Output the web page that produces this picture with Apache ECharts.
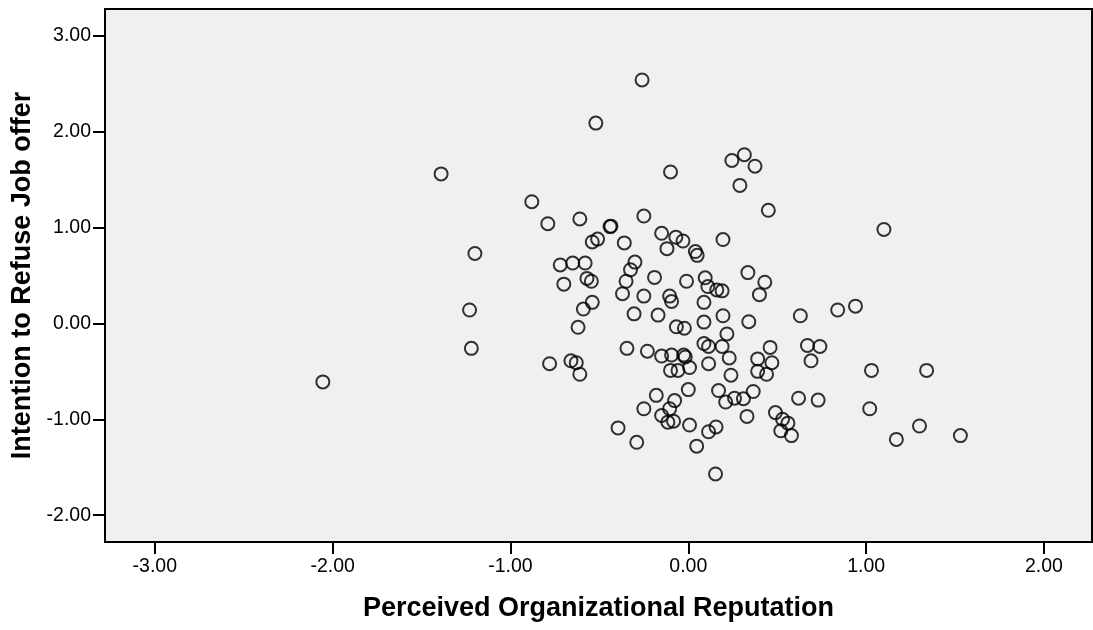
<!DOCTYPE html>
<html>
<head>
<meta charset="utf-8">
<script src="https://cdn.jsdelivr.net/npm/echarts@6/dist/echarts.min.js"></script>
<style>
  html, body { margin: 0; padding: 0; background: #ffffff; }
  #chart { width: 1093px; height: 630px; }
</style>
</head>
<body>
<div id="chart"></div>
<script>
// Perceived Organizational Reputation (x) values
const reputation = [
  -0.26, -0.52, -1.39, -0.10, 0.245, 0.315, 0.375, 0.29, 0.45, 1.10,
  -0.88, -0.79, -0.61, -0.44, -0.435, -0.25, -1.20, -0.51, -0.54, -0.36,
  -0.15, -0.07, -0.03, -0.12, 0.04, 0.05, 0.195, -0.72, -0.65, -0.58,
  -0.30, -0.325, -0.70, -0.57, -0.545, -0.35, -0.19, -0.01, 0.095, 0.11,
  0.16, 0.19, 0.335, 0.43, 0.40, -0.37, -0.25, -0.105, -0.094, -0.54,
  -0.59, -1.23, 0.088, -0.305, -0.17, 0.195, 0.34, 0.63, 0.84, 0.94,
  -0.62, -0.067, -0.022, 0.088, 0.217, -1.22, -0.78, -0.66, -0.63, -0.61,
  -0.345, -0.23, -0.15, -0.094, -0.026, -0.017, 0.088, 0.114, 0.19, 0.23,
  0.46, 0.67, 0.74, 0.69, 0.39, 0.47, 0.114, 0.007, -0.10, -0.058,
  0.39, 0.44, 0.24, 1.03, 1.34, -2.055, 0.0, -0.18, -0.077, 0.17,
  0.365, 0.21, 0.26, 0.31, 0.62, 0.73, 1.02, 0.33, 0.49, 0.53,
  0.56, 0.52, 0.58, 1.30, 1.17, 1.53, -0.25, -0.105, -0.15, -0.115,
  -0.083, 0.007, -0.395, -0.29, 0.047, 0.114, 0.156, 0.153
];
// Intention to Refuse Job offer (y) values
const intention = [
  2.54, 2.09, 1.56, 1.58, 1.70, 1.76, 1.64, 1.44, 1.18, 0.98,
  1.27, 1.04, 1.09, 1.01, 1.015, 1.12, 0.73, 0.88, 0.85, 0.84,
  0.94, 0.90, 0.86, 0.78, 0.75, 0.71, 0.875, 0.61, 0.63, 0.63,
  0.64, 0.56, 0.41, 0.47, 0.44, 0.44, 0.48, 0.44, 0.476, 0.385,
  0.35, 0.34, 0.53, 0.43, 0.30, 0.31, 0.285, 0.285, 0.23, 0.22,
  0.15, 0.14, 0.22, 0.10, 0.087, 0.08, 0.018, 0.08, 0.14, 0.18,
  -0.04, -0.035, -0.05, 0.014, -0.11, -0.26, -0.42, -0.39, -0.41, -0.53,
  -0.26, -0.29, -0.34, -0.33, -0.33, -0.35, -0.21, -0.24, -0.24, -0.36,
  -0.25, -0.23, -0.24, -0.39, -0.37, -0.41, -0.42, -0.46, -0.49, -0.49,
  -0.50, -0.53, -0.54, -0.49, -0.49, -0.61, -0.69, -0.75, -0.805, -0.70,
  -0.71, -0.82, -0.78, -0.785, -0.78, -0.80, -0.89, -0.97, -0.93, -1.00,
  -1.04, -1.12, -1.17, -1.07, -1.21, -1.17, -0.89, -0.89, -0.96, -1.03,
  -1.02, -1.06, -1.09, -1.24, -1.28, -1.13, -1.08, -1.57
];
const xTicks = [-3, -2, -1, 0, 1, 2];
const yTicks = [-2, -1, 0, 1, 2, 3];
const xTitle = 'Perceived Organizational Reputation';
const yTitle = 'Intention to Refuse Job offer';

const points = reputation.map((x, i) => [x, intention[i]]);

const chart = echarts.init(document.getElementById('chart'), null, { renderer: 'canvas' });
const font = 'Liberation Sans, Arial, Helvetica, sans-serif';
chart.setOption({
  animation: false,
  backgroundColor: '#ffffff',
  grid: {
    left: 105, right: 1, top: 9, bottom: 88,
    show: true, backgroundColor: '#f0f0f0', borderColor: '#000', borderWidth: 2
  },
  xAxis: {
    type: 'value', min: -3.28, max: 2.27,
    name: xTitle, nameLocation: 'middle', nameGap: 53,
    nameTextStyle: { fontFamily: font, fontWeight: 'bold', fontSize: 27, color: '#000' },
    axisLine: { show: true, onZero: false, lineStyle: { color: '#000', width: 2 } },
    axisTick: { show: true, length: 12, lineStyle: { color: '#000', width: 2 }, customValues: xTicks },
    axisLabel: { margin: 15, fontFamily: font, fontSize: 19.5, color: '#000',
      customValues: xTicks, formatter: v => v.toFixed(2) },
    splitLine: { show: false }
  },
  yAxis: {
    type: 'value', min: -2.28, max: 3.28,
    name: yTitle, nameLocation: 'middle', nameGap: 68,
    nameTextStyle: { fontFamily: font, fontWeight: 'bold', fontSize: 27, color: '#000' },
    axisLine: { show: true, onZero: false, lineStyle: { color: '#000', width: 2 } },
    axisTick: { show: true, length: 12, lineStyle: { color: '#000', width: 2 }, customValues: yTicks },
    axisLabel: { margin: 14, fontFamily: font, fontSize: 19.5, color: '#000',
      customValues: yTicks, formatter: v => v.toFixed(2) },
    splitLine: { show: false }
  },
  series: [{
    type: 'scatter',
    data: points,
    symbol: 'circle',
    symbolSize: 13,
    itemStyle: { color: 'rgba(0,0,0,0)', borderColor: '#000', borderWidth: 2 }
  }]
});
</script>
</body>
</html>
